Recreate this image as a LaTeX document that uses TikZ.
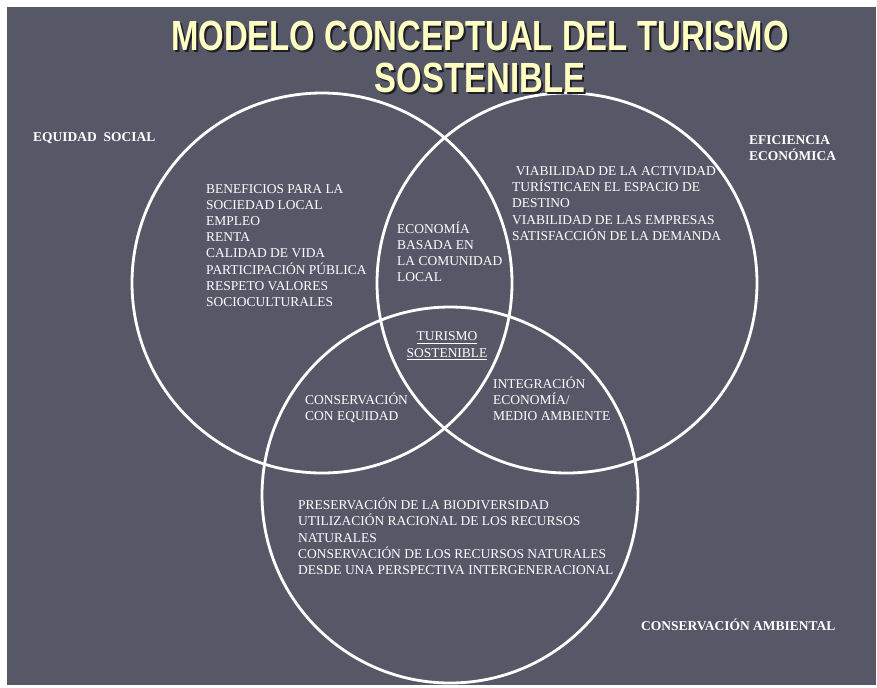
\documentclass[tikz,border=0pt]{standalone}
\usepackage{fontspec}
\setmainfont{Liberation Serif}
\newfontfamily\titlefont[FakeStretch = 0.78]{Liberation Sans}
\definecolor{slide}{RGB}{86,88,104}
\definecolor{titleyellow}{RGB}{255,255,196}
\definecolor{shadowgray}{RGB}{30,30,38}
\newcommand{\shadedline}[1]{\rlap{\kern1.7pt\raisebox{-1.7pt}{\color{shadowgray}#1}}#1}

\begin{document}
\begin{tikzpicture}[x = 0.03cm, y = -0.03cm,
  ring/.style = {draw = white, line width = 2.4pt},
  body/.style = {text = white, anchor = north west, inner sep = 0pt, align = left,
    font = \fontsize{11.5}{13.8}\selectfont},
  area/.style = {body, font = \fontsize{11.5}{13.8}\selectfont\bfseries},
  headline/.style = {anchor = north, inner sep = 0pt, align = center, text = titleyellow,
    font = \titlefont\bfseries\fontsize{36}{36}\selectfont}]
\useasboundingbox (0,0) rectangle (877,687);
\fill[white] (0,0) rectangle (877,687);
\fill[slide] (7,7) rectangle (876,685); % slide
\draw[ring] (322,283) circle[radius = 190];
\draw[ring] (567,283) circle[radius = 190];
\draw[ring] (450,495) circle[radius = 188];
\node[headline] (title) at (480,21) {\shadedline{MODELO CONCEPTUAL DEL TURISMO}\\\shadedline{SOSTENIBLE}};
\node[area] (equidad) at (33,132.8) {EQUIDAD\ \ SOCIAL};
\node[area] (eficiencia) at (749,135) {EFICIENCIA\\ECONÓMICA};
\node[area] (ambiental) at (641,619) {CONSERVACIÓN AMBIENTAL};
\node[body] (beneficios) at (206,184) {BENEFICIOS PARA LA\\SOCIEDAD LOCAL\\EMPLEO\\RENTA\\CALIDAD DE VIDA\\PARTICIPACIÓN PÚBLICA\\RESPETO VALORES\\SOCIOCULTURALES};
\node[body] (viabilidad) at (512,166.4) {\hspace*{3pt}VIABILIDAD DE LA ACTIVIDAD\\TURÍSTICAEN EL ESPACIO DE\\DESTINO\\VIABILIDAD DE LAS EMPRESAS\\SATISFACCIÓN DE LA DEMANDA};
\node[body] (comunidad) at (397,221.4) {ECONOMÍA\\BASADA EN\\LA COMUNIDAD\\LOCAL};
\node[body, anchor = north, align = center] (turismo) at (447,331.8) {\underline{TURISMO}\\\underline{SOSTENIBLE}};
\node[body] (conservacion) at (305,392.4) {CONSERVACIÓN\\CON EQUIDAD};
\node[body] (integracion) at (493,376.4) {INTEGRACIÓN\\ECONOMÍA/\\MEDIO AMBIENTE};
\node[body] (biodiversidad) at (298,498) {PRESERVACIÓN DE LA BIODIVERSIDAD\\UTILIZACIÓN RACIONAL DE LOS RECURSOS\\NATURALES\\CONSERVACIÓN DE LOS RECURSOS NATURALES\\DESDE UNA PERSPECTIVA INTERGENERACIONAL};
\end{tikzpicture}
\end{document}
